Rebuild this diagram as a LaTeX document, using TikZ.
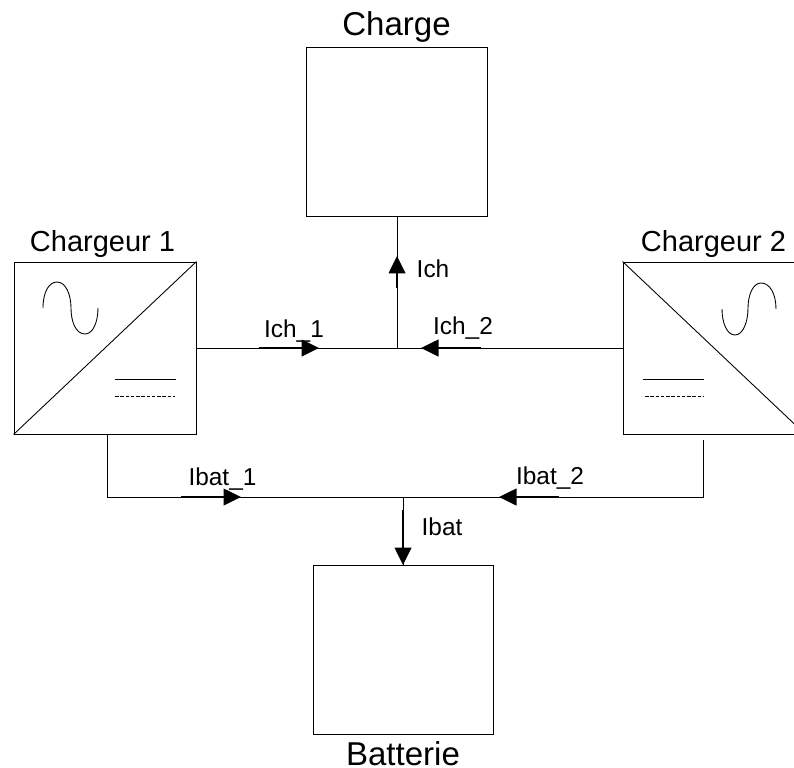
\documentclass[tikz,border=0pt]{standalone}
\usepackage{fontspec}
\setmainfont{Liberation Sans}
\usetikzlibrary{arrows.meta}

\begin{document}
\begin{tikzpicture}[x=0.02cm, y=0.02cm]
        \tikzstyle{every node}+=[inner sep=0pt]
        \tikzstyle{wire}=[black, line width=0.5pt]
        \tikzstyle{box}=[draw=black, line width=0.55pt, minimum width=3.64cm, minimum height=3.44cm]
        \tikzstyle{current}=[black, line width=1.5pt, -{Triangle[length=3.5mm, width=3.3mm]}]
        \tikzstyle{title}=[anchor=base, font=\fontsize{16.5}{18}\selectfont]
        \tikzstyle{bigtitle}=[anchor=base, font=\fontsize{18.8}{22}\selectfont]
        \tikzstyle{tag}=[anchor=base, font=\fontsize{13.9}{15}\selectfont]
        \clip (0,0) rectangle (794,-767);
        \node [box] (chargeur1) at (105,-348) {};
        \node [box] (chargeur2) at (714,-348) {};
        \node [box, minimum width=3.62cm, minimum height=3.38cm] (charge) at (396.5,-131.5) {};
        \node [box, minimum width=3.6cm, minimum height=3.38cm] (batterie) at (403,-649.5) {};
        \node [bigtitle] (charge label) at (396.5,-36) {Charge};
        \node [title] (chargeur1 label) at (102.5,-251) {Chargeur 1};
        \node [title] (chargeur2 label) at (713.5,-251) {Chargeur 2};
        \node [bigtitle] (batterie label) at (403,-765) {Batterie};
        \draw [wire] (chargeur1.south west) -- (chargeur1.north east);
        \draw [wire] (chargeur2.north west) -- (chargeur2.south east);
        \draw [wire] (43,-308) .. controls (43,-292) and (49,-282) .. (57,-282) .. controls (66,-282) and (71,-295) .. (71,-308) .. controls (71,-322) and (76,-334) .. (85,-334) .. controls (93,-334) and (98,-322) .. (98,-308);
        \draw [wire] (722,-309) .. controls (722,-323) and (727,-335) .. (735,-335) .. controls (743,-335) and (748,-322) .. (748,-308) .. controls (748,-295) and (753,-283) .. (761,-283) .. controls (770,-283) and (776,-294) .. (776,-309);
        \draw [wire] (115,-379) -- (176,-379);
        \draw [wire, dash pattern=on 2pt off 1pt] (115,-396) -- (175,-396);
        \draw [wire] (643,-379) -- (704,-379);
        \draw [wire, dash pattern=on 2pt off 1pt] (645,-396) -- (704,-396);
        \coordinate (jch) at (397,-348);
        \coordinate (jbat) at (403,-497);
        \coordinate (out1) at (107,-434);
        \coordinate (bend1) at (107,-497);
        \coordinate (out2) at (703,-440);
        \coordinate (bend2) at (703,-497);
        \draw [wire] (chargeur1.east) -- (chargeur2.west);
        \draw [wire] (jch) -- (jch |- charge.south);
        \draw [wire] (out1) -- (bend1) -- (bend2) -- (out2);
        \draw [wire] (jbat) -- (batterie.north);
        \coordinate (ich1 a) at (259,-348);
        \coordinate (ich1 b) at (319,-348);
        \coordinate (ich2 a) at (481,-348);
        \coordinate (ich2 b) at (421,-348);
        \coordinate (ich a) at (397,-288);
        \coordinate (ich b) at (397,-256);
        \coordinate (ibat1 a) at (181,-497);
        \coordinate (ibat1 b) at (241,-497);
        \coordinate (ibat2 a) at (559,-497);
        \coordinate (ibat2 b) at (499,-497);
        \coordinate (ibat a) at (403,-510);
        \coordinate (ibat b) at (403,-565);
        \draw [current] (ich1 a) -- (ich1 b);
        \draw [current] (ich2 a) -- (ich2 b);
        \draw [current] (ich a) -- (ich b);
        \draw [current] (ibat1 a) -- (ibat1 b);
        \draw [current] (ibat2 a) -- (ibat2 b);
        \draw [current] (ibat a) -- (ibat b);
        \node [tag] (ich1 label) at (294,-337) {Ich\_1};
        \node [tag] (ich2 label) at (463,-334) {Ich\_2};
        \node [tag] (ich label) at (433,-277) {Ich};
        \node [tag] (ibat1 label) at (222.5,-485) {Ibat\_1};
        \node [tag] (ibat2 label) at (550,-484) {Ibat\_2};
        \node [tag] (ibat label) at (442,-535) {Ibat};
        \end{tikzpicture}
\end{document}
